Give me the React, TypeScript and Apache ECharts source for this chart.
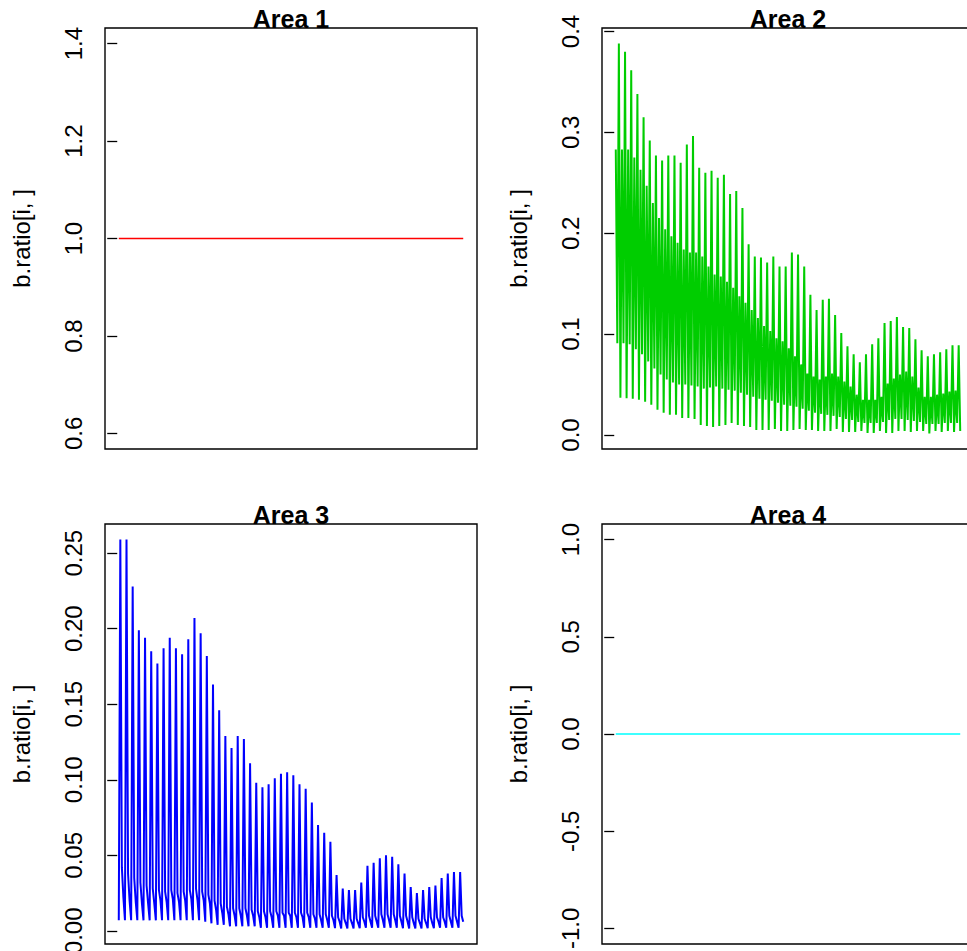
import React, { useEffect, useRef } from "react";
import * as echarts from "echarts";

// ---------------- data (quarterly steps, 56 cycles x 4 = 224 points) ----------------
const area1Level = 1.0;
const area4Level = 0.0;
const nPoints = 224;

// Area 2 (green): per cycle -> [mid spike, low A, tall peak, low B]
const greenMid = [
  0.283, 0.283, 0.283, 0.275, 0.263, 0.247, 0.23, 0.215, 0.204, 0.197,
  0.1905, 0.184, 0.181, 0.181, 0.177, 0.167, 0.159, 0.157, 0.152, 0.146,
  0.1375, 0.131, 0.124, 0.116, 0.108, 0.103, 0.096, 0.093, 0.086, 0.078,
  0.07, 0.061, 0.058, 0.055, 0.058, 0.061, 0.058, 0.053, 0.048, 0.04,
  0.035, 0.035, 0.035, 0.038, 0.051, 0.056, 0.06, 0.063, 0.058, 0.047,
  0.038, 0.038, 0.04, 0.041, 0.043, 0.044,
];
const greenLowA = [
  0.091, 0.091, 0.09, 0.085, 0.08, 0.073, 0.066, 0.06, 0.055, 0.052,
  0.05, 0.05, 0.049, 0.048, 0.046, 0.047, 0.048, 0.046, 0.045, 0.044,
  0.042, 0.04, 0.038, 0.036, 0.035, 0.034, 0.032, 0.03, 0.029, 0.028,
  0.026, 0.024, 0.022, 0.021, 0.02, 0.019, 0.018, 0.016, 0.015, 0.013,
  0.012, 0.012, 0.012, 0.013, 0.015, 0.016, 0.016, 0.015, 0.014, 0.013,
  0.011, 0.011, 0.011, 0.012, 0.012, 0.012,
];
const greenPeak = [
  0.388, 0.38, 0.3615, 0.338, 0.315, 0.292, 0.277, 0.272, 0.277, 0.277,
  0.27, 0.288, 0.2965, 0.265, 0.26, 0.262, 0.255, 0.258, 0.239, 0.242,
  0.225, 0.189, 0.177, 0.176, 0.171, 0.177, 0.167, 0.167, 0.181, 0.179,
  0.167, 0.139, 0.124, 0.134, 0.135, 0.119, 0.101, 0.088, 0.08, 0.072,
  0.08, 0.09, 0.096, 0.111, 0.113, 0.117, 0.107, 0.106, 0.095, 0.084,
  0.078, 0.08, 0.082, 0.085, 0.089, 0.089,
];
const greenLowB = [
  0.037, 0.0365, 0.036, 0.035, 0.033, 0.03, 0.025, 0.022, 0.02, 0.02,
  0.017, 0.017, 0.016, 0.01, 0.009, 0.008, 0.009, 0.01, 0.012, 0.01,
  0.009, 0.008, 0.005, 0.005, 0.005, 0.006, 0.004, 0.004, 0.005, 0.006,
  0.005, 0.005, 0.004, 0.004, 0.004, 0.006, 0.003, 0.003, 0.003, 0.004,
  0.002, 0.002, 0.004, 0.002, 0.002, 0.004, 0.004, 0.003, 0.004, 0.004,
  0.0016, 0.004, 0.003, 0.004, 0.003, 0.004,
];

// Area 3 (blue): per cycle -> [low before spike, spike, shoulder, trough]
const blueLow = [
  0.007, 0.007, 0.007, 0.007, 0.007, 0.007, 0.007, 0.007, 0.007, 0.007,
  0.007, 0.007, 0.007, 0.007, 0.006, 0.005, 0.004, 0.004, 0.003, 0.003,
  0.003, 0.003, 0.003, 0.002, 0.002, 0.002, 0.002, 0.002, 0.002, 0.002,
  0.002, 0.002, 0.002, 0.002, 0.002, 0.0018, 0.0016, 0.0016, 0.0016, 0.0017,
  0.002, 0.002, 0.002, 0.002, 0.002, 0.002, 0.0018, 0.0016, 0.0016, 0.0016,
  0.0017, 0.0018, 0.002, 0.002, 0.002, 0.002,
];
const bluePeak = [
  0.259, 0.259, 0.228, 0.199, 0.194, 0.185, 0.177, 0.187, 0.194, 0.187,
  0.183, 0.193, 0.207, 0.197, 0.182, 0.163, 0.146, 0.129, 0.121, 0.129,
  0.127, 0.111, 0.098, 0.095, 0.097, 0.101, 0.104, 0.105, 0.103, 0.097,
  0.094, 0.085, 0.07, 0.065, 0.059, 0.037, 0.028, 0.027, 0.027, 0.032,
  0.043, 0.045, 0.048, 0.05, 0.049, 0.044, 0.038, 0.029, 0.025, 0.027,
  0.029, 0.03, 0.035, 0.038, 0.039, 0.039,
];
const blueShoulder = [
  0.042, 0.038, 0.035, 0.032, 0.03, 0.028, 0.027, 0.026, 0.027, 0.025,
  0.026, 0.027, 0.028, 0.026, 0.024, 0.02, 0.018, 0.016, 0.015, 0.015,
  0.015, 0.014, 0.013, 0.013, 0.013, 0.013, 0.012, 0.012, 0.012, 0.012,
  0.012, 0.011, 0.011, 0.011, 0.01, 0.009, 0.008, 0.008, 0.008, 0.009,
  0.01, 0.01, 0.011, 0.011, 0.011, 0.01, 0.01, 0.009, 0.008, 0.008,
  0.009, 0.009, 0.009, 0.01, 0.01, 0.01,
];
const blueTrough = [
  0.022, 0.02, 0.019, 0.018, 0.018, 0.018, 0.02, 0.019, 0.021, 0.019,
  0.02, 0.021, 0.02, 0.02, 0.018, 0.014, 0.012, 0.011, 0.01, 0.01,
  0.01, 0.01, 0.009, 0.009, 0.009, 0.01, 0.01, 0.01, 0.009, 0.009,
  0.009, 0.008, 0.007, 0.007, 0.007, 0.006, 0.005, 0.005, 0.005, 0.006,
  0.006, 0.006, 0.007, 0.007, 0.007, 0.006, 0.006, 0.005, 0.005, 0.005,
  0.005, 0.006, 0.006, 0.006, 0.006, 0.006,
];

const area1Ticks = [0.6, 0.8, 1.0, 1.2, 1.4];
const area2Ticks = [0.0, 0.1, 0.2, 0.3, 0.4];
const area3Ticks = [0.0, 0.05, 0.1, 0.15, 0.2, 0.25];
const area4Ticks = [-1.0, -0.5, 0.0, 0.5, 1.0];

const titles = ["Area 1", "Area 2", "Area 3", "Area 4"];
const yLabel = "b.ratio[i, ]";

// ---------------- helpers ----------------
function interleave(cols: number[][]): number[][] {
  const out: number[][] = [];
  for (let c = 0; c < cols[0].length; c++) {
    for (let j = 0; j < cols.length; j++) out.push([out.length + 1, cols[j][c]]);
  }
  return out;
}
function constant(level: number, n: number): number[][] {
  const out: number[][] = [];
  for (let i = 1; i <= n; i++) out.push([i, level]);
  return out;
}
// R-style range: pad by 4% each side; degenerate range widened first
function rRange(vals: number[]): [number, number] {
  let lo = Math.min(...vals);
  let hi = Math.max(...vals);
  if (lo === hi) {
    if (lo === 0) { lo = -1; hi = 1; }
    else { const t = 0.4 * Math.abs(lo); lo -= t; hi += t; }
  }
  const d = 0.04 * (hi - lo);
  return [lo - d, hi + d];
}

const FONT = "'Liberation Sans', Arial, Helvetica, sans-serif";

export default function App() {
  const ref = useRef<HTMLDivElement>(null);
  useEffect(() => {
    if (!ref.current) return;
    const chart = echarts.init(ref.current, undefined, { renderer: "svg" });

    const s1 = constant(area1Level, nPoints);
    const s2 = interleave([greenMid, greenLowA, greenPeak, greenLowB]);
    const s3 = interleave([blueLow, bluePeak, blueShoulder, blueTrough]);
    const s4 = constant(area4Level, nPoints);
    const all = [s1, s2, s3, s4];
    const colors = ["#FF0000", "#00CD00", "#0000FF", "#00FFFF"];
    const widths = [1.5, 2, 2, 1.5];
    const ticks = [area1Ticks, area2Ticks, area3Ticks, area4Ticks];
    const decimals = [1, 1, 2, 1];

    const grids = [
      { left: 105, top: 28, width: 372, height: 421 },
      { left: 602, top: 28, width: 372, height: 421 },
      { left: 105, top: 524, width: 372, height: 420 },
      { left: 602, top: 524, width: 372, height: 420 },
    ];

    const xr = rRange([1, nPoints]);

    const option: any = {
      animation: false,
      backgroundColor: "#fff",
      title: grids.map((g, i) => ({
        text: titles[i],
        left: g.left + g.width / 2,
        top: i < 2 ? 6 : 502,
        textAlign: "center",
        padding: 0,
        textStyle: { fontSize: 25, fontWeight: "bold", color: "#000", fontFamily: FONT },
      })),
      grid: grids.map((g) => ({
        ...g,
        show: true,
        borderColor: "#000",
        borderWidth: 1.4,
        backgroundColor: "transparent",
        containLabel: false,
        outerBoundsMode: "none",
      })),
      xAxis: grids.map((_, i) => ({
        type: "value",
        gridIndex: i,
        min: xr[0],
        max: xr[1],
        show: false,
      })),
      yAxis: grids.map((_, i) => {
        const yr = rRange(all[i].map((p) => p[1]));
        return {
          type: "value",
          gridIndex: i,
          min: yr[0],
          max: yr[1],
          name: yLabel,
          nameLocation: "middle",
          nameRotate: 90,
          nameGap: 72,
          nameTextStyle: { fontSize: 24, color: "#000", fontFamily: FONT },
          axisLine: { show: false },
          splitLine: { show: false },
          axisTick: {
            show: true,
            length: 10,
            customValues: ticks[i],
            lineStyle: { color: "#000", width: 1.3 },
          },
          axisLabel: {
            customValues: ticks[i],
            rotate: 90,
            margin: 20,
            fontSize: 24,
            color: "#000",
            fontFamily: FONT,
            formatter: (v: number) => v.toFixed(decimals[i]),
          },
        };
      }),
      series: all.map((d, i) => ({
        type: "line",
        xAxisIndex: i,
        yAxisIndex: i,
        data: d,
        showSymbol: false,
        symbol: "none",
        silent: true,
        lineStyle: { color: colors[i], width: widths[i] },
      })),
    };
    chart.setOption(option);
    return () => chart.dispose();
  }, []);

  return (
    <div
      ref={ref}
      style={{ position: "fixed", left: 0, top: 0, width: 967, height: 951, background: "#fff" }}
    />
  );
}
